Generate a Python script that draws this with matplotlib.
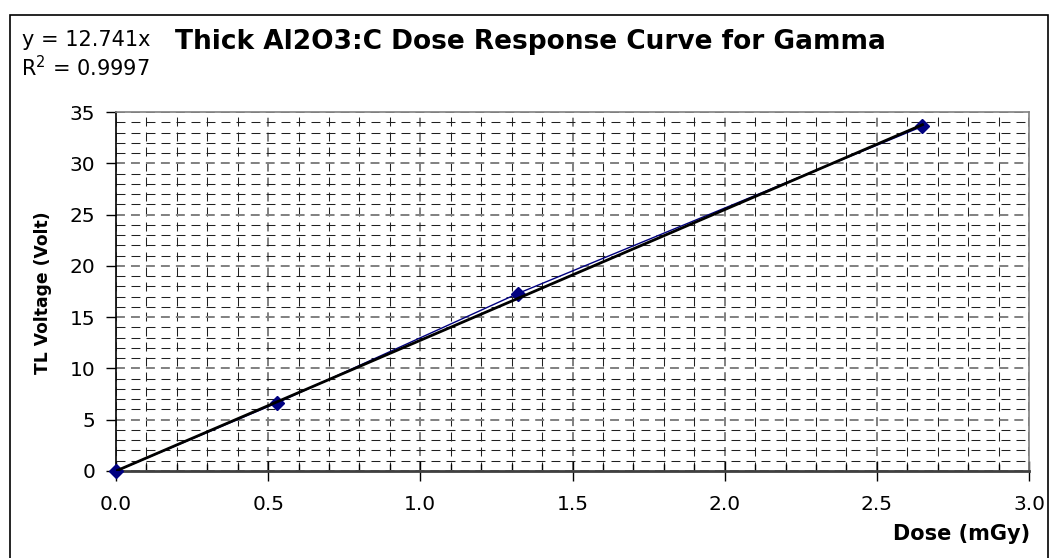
import numpy as np
import matplotlib.pyplot as plt
from matplotlib.patches import Rectangle
from matplotlib.ticker import MultipleLocator, FormatStrFormatter

plt.rcParams['font.family'] = ['DejaVu Sans']

# measured dose response
dose = [0.0, 0.53, 1.32, 2.65]
tl_voltage = [0.0, 6.65, 17.3, 33.6]
slope = 12.741
r_squared = 0.9997

W, H = 1051, 558
fig = plt.figure(figsize=(W / 100, H / 100), dpi=100)

# outer chart frame (bottom edge falls outside the image)
fig.patches.append(Rectangle((10 / W, -5 / H), 1038 / W, 548 / H, transform=fig.transFigure,
                             fill=False, edgecolor='black', linewidth=1.2))

left, right, top, bottom = 116, 1029, 112, 471
ax = fig.add_axes([left / W, (H - bottom) / H, (right - left) / W, (bottom - top) / H])

# gridlines: minor every 0.1 / 1, major every 0.5 / 5
ax.xaxis.set_major_locator(MultipleLocator(0.5))
ax.xaxis.set_minor_locator(MultipleLocator(0.1))
ax.yaxis.set_major_locator(MultipleLocator(5))
ax.yaxis.set_minor_locator(MultipleLocator(1))
ax.grid(which='minor', color='#202020', linestyle=(0, (8.6, 5.8)), linewidth=0.75)
ax.grid(which='major', color='#808080', linestyle=(0, (4.6, 3.1)), linewidth=1.4)
ax.set_axisbelow(True)

ax.plot(dose, tl_voltage, color='#000080', linewidth=1, marker='D',
        markersize=7, markerfacecolor='#000080', markeredgecolor='#000080', zorder=3,
        clip_on=False)
fit_x = np.array([0.0, dose[-1]])
ax.plot(fit_x, slope * fit_x, color='black', linewidth=2, zorder=4)

ax.set_xlim(0, 3.0)
ax.set_ylim(0, 35)
ax.xaxis.set_major_formatter(FormatStrFormatter('%.1f'))

ax.tick_params(which='major', direction='inout', length=14, width=1, labelsize=14.5, pad=10)
ax.tick_params(axis='y', which='major', direction='out', length=7, pad=8)
ax.tick_params(axis='x', which='minor', direction='in', length=5, width=1)
ax.tick_params(axis='y', which='minor', length=0)

for side in ['top', 'right']:
    ax.spines[side].set_color('#808080')
    ax.spines[side].set_linewidth(1.2)
ax.spines['left'].set_color('black')
ax.spines['left'].set_linewidth(1.2)
ax.spines['bottom'].set_color('#404040')
ax.spines['bottom'].set_linewidth(2)

fig.text(530 / W, 1 - 42 / H, 'Thick Al2O3:C Dose Response Curve for Gamma',
         ha='center', va='center', fontsize=19, fontweight='bold')
fig.text(22 / W, 1 - 40 / H, f'y = {slope}x', ha='left', va='center', fontsize=15)
fig.text(21 / W, 1 - 68 / H, f'R$^2$ = {r_squared}', ha='left', va='center', fontsize=15)
fig.text(43 / W, 1 - 293 / H, 'TL Voltage (Volt)', rotation=90, ha='center', va='center',
         fontsize=12.3, fontweight='bold')
fig.text(1030 / W, 1 - 534 / H, 'Dose (mGy)', ha='right', va='center',
         fontsize=15, fontweight='bold')

fig.savefig('out.png', dpi=100)
